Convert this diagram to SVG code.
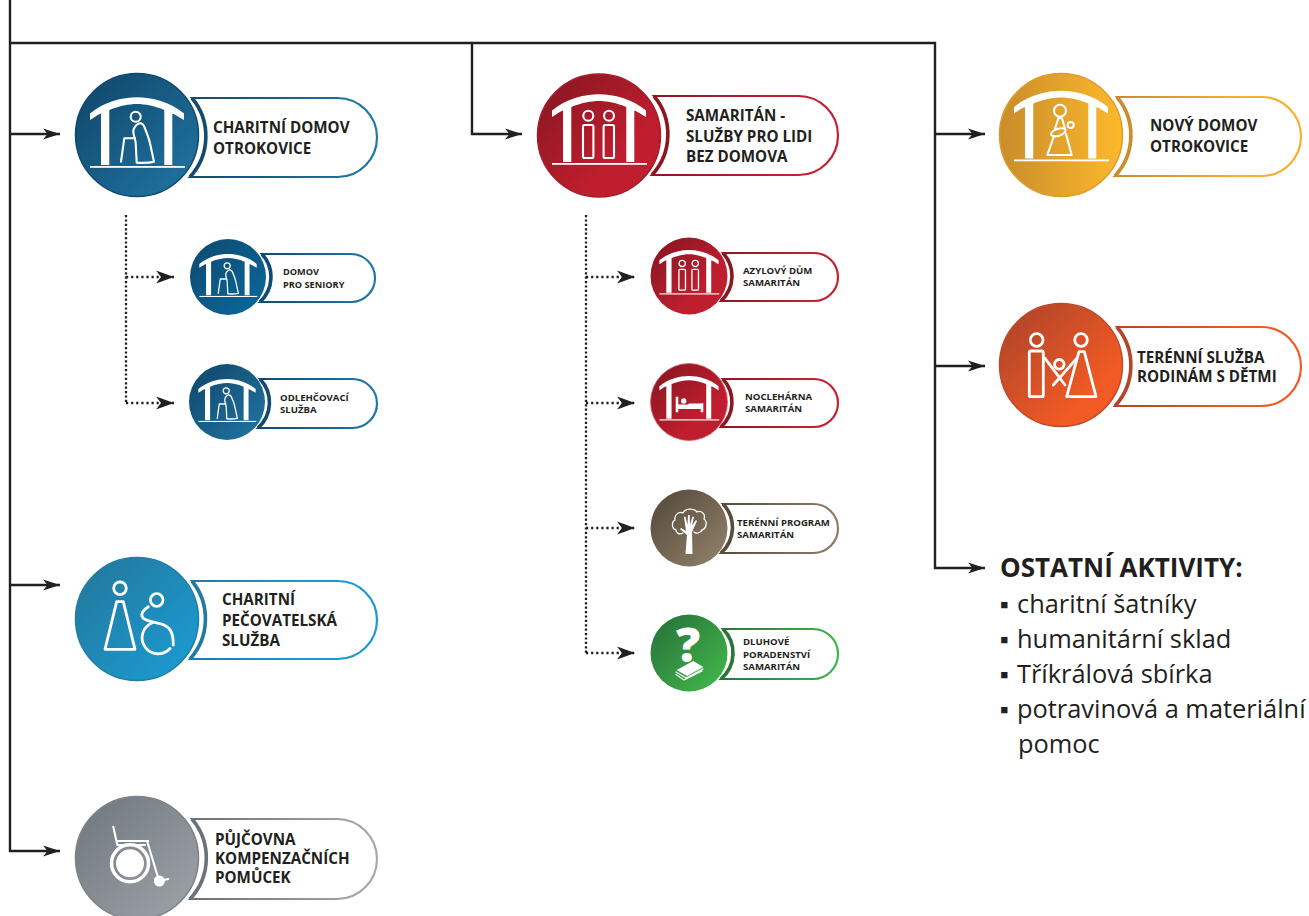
<svg xmlns="http://www.w3.org/2000/svg" xmlns:xlink="http://www.w3.org/1999/xlink" width="1309" height="916" viewBox="0 0 1309 916">
<style>
text{font-family:"Open Sans","Liberation Sans",sans-serif;fill:#231f20}
.b{font-weight:700}
.big{font-size:15.2px;font-weight:700}
.sm{font-size:9.6px;font-weight:700}
.list{font-size:25.4px}
.conn{fill:none;stroke:#231f20;stroke-width:2.4}
.dot{fill:none;stroke:#231f20;stroke-width:2.3;stroke-dasharray:2.2 2.2}
.doth{fill:none;stroke:#231f20;stroke-width:2.3;stroke-dasharray:2.2 2.9}
.pill{fill:#fff;stroke-width:2.2}
.edge{fill:none;stroke-width:3.6}
.w{fill:#fff;stroke:none}
.o{fill:none;stroke:#fff;stroke-width:2.1;stroke-linejoin:round;stroke-linecap:round}
.o2{fill:none;stroke:#fff;stroke-width:2.8;stroke-linecap:round;stroke-linejoin:round}
</style>
<defs>
<marker id="ah" markerUnits="userSpaceOnUse" markerWidth="18" markerHeight="12" refX="17" refY="6" orient="auto"><path d="M0,0.5 L17,6 L0,11.5 L4.5,6 Z" fill="#231f20"/></marker>
<marker id="ahd" markerUnits="userSpaceOnUse" markerWidth="19" markerHeight="14" refX="18" refY="7" orient="auto"><path d="M0,0.5 L18,7 L0,13.5 L5,7 Z" fill="#231f20"/></marker>
<linearGradient id="gBlue" x1="0.1" y1="0.1" x2="0.9" y2="0.9"><stop offset="0" stop-color="#114a6e"/><stop offset="1" stop-color="#1f719f"/></linearGradient>
<linearGradient id="gBlue2" x1="0.1" y1="0.1" x2="0.9" y2="0.9"><stop offset="0" stop-color="#0e4c74"/><stop offset="1" stop-color="#0a6699"/></linearGradient>
<linearGradient id="gCyan" x1="0.1" y1="0.1" x2="0.9" y2="0.9"><stop offset="0" stop-color="#237a9f"/><stop offset="1" stop-color="#1b9ad0"/></linearGradient>
<linearGradient id="gGrey" x1="0.1" y1="0.1" x2="0.9" y2="0.9"><stop offset="0" stop-color="#737a80"/><stop offset="1" stop-color="#9aa0a6"/></linearGradient>
<linearGradient id="gRed" x1="0.1" y1="0.1" x2="0.9" y2="0.9"><stop offset="0" stop-color="#8c1722"/><stop offset="0.7" stop-color="#be1e2e"/></linearGradient>
<linearGradient id="gBrown" x1="0.1" y1="0.1" x2="0.9" y2="0.9"><stop offset="0" stop-color="#584c3d"/><stop offset="1" stop-color="#8d7e67"/></linearGradient>
<linearGradient id="gGreen" x1="0.1" y1="0.1" x2="0.9" y2="0.9"><stop offset="0" stop-color="#29763b"/><stop offset="1" stop-color="#40b44a"/></linearGradient>
<linearGradient id="gYellow" x1="0" y1="0.5" x2="1" y2="0.5"><stop offset="0" stop-color="#c98d2b"/><stop offset="1" stop-color="#fdb92c"/></linearGradient>
<linearGradient id="gOrange" x1="0.1" y1="0.1" x2="0.9" y2="0.9"><stop offset="0" stop-color="#b2452a"/><stop offset="0.8" stop-color="#f15a24"/></linearGradient>
<linearGradient id="sBlue" x1="0" y1="0.5" x2="1" y2="0.5"><stop offset="0" stop-color="#124b6f"/><stop offset="1" stop-color="#1f78a8"/></linearGradient>
<linearGradient id="sCyan" x1="0" y1="0.5" x2="1" y2="0.5"><stop offset="0" stop-color="#227a9f"/><stop offset="0.6" stop-color="#1b9ad0"/></linearGradient>
<linearGradient id="sGrey" x1="0" y1="0.5" x2="1" y2="0.5"><stop offset="0" stop-color="#6b7278"/><stop offset="1" stop-color="#a7abb0"/></linearGradient>
<linearGradient id="sRed" x1="0" y1="0.5" x2="1" y2="0.5"><stop offset="0" stop-color="#8c1722"/><stop offset="0.7" stop-color="#c32032"/></linearGradient>
<linearGradient id="sBrown" x1="0" y1="0.5" x2="1" y2="0.5"><stop offset="0" stop-color="#584c3d"/><stop offset="1" stop-color="#8d7e67"/></linearGradient>
<linearGradient id="sGreen" x1="0" y1="0.5" x2="1" y2="0.5"><stop offset="0" stop-color="#29763b"/><stop offset="1" stop-color="#40b44a"/></linearGradient>
<linearGradient id="sYellow" x1="0" y1="0.5" x2="1" y2="0.5"><stop offset="0" stop-color="#c98d2b"/><stop offset="0.7" stop-color="#f9ae30"/></linearGradient>
<linearGradient id="sOrange" x1="0" y1="0.5" x2="1" y2="0.5"><stop offset="0" stop-color="#b2452a"/><stop offset="0.7" stop-color="#f15a24"/></linearGradient>
<g id="roof">
<path class="w" d="M-47,-21.500 C-33,-33 -15,-37.700 0,-37.700 C15,-37.700 33,-33 47,-21.500 L47,-15 C43,-17.500 39,-20 35.300,-21.500 L35.300,30 H27.300 L27.300,-25 C18,-29 8,-31 0,-31 C-8,-31 -18,-29 -27.700,-25 L-27.700,30 H-36 L-36,-21.500 C-40,-20 -43,-17.500 -47,-15 Z"/>
<rect class="w" x="-47" y="31" width="95" height="1.800"/>
</g>
<g id="elder">
<use xlink:href="#roof" href="#roof"/>
<circle class="o" cx="-1.300" cy="-18.300" r="5"/>
<path class="o" d="M-2,-8.300 C0,-11 2,-11.700 3,-11.700 C5.500,-11.700 7,-9.500 8,-6.700 C10,-1 12,3 13,8.300 C14.500,15 16,22 17,26.700 C12,28 5,28 -.3,27.700 L-1.300,8.300 C-1.500,4 -3.700,0 -3.700,-3.300 C-3.700,-5 -3,-7 -2,-8.300 Z"/>
<path class="o" d="M-16,26.700 L-12.700,3.300 L-2,3.300"/>
</g>
<g id="people">
<use xlink:href="#roof" href="#roof" y="-3.500"/>
<circle class="o" cx="-10.700" cy="-19.800" r="5"/>
<circle class="o" cx="10" cy="-19.800" r="5"/>
<rect class="o" x="-16" y="-10.500" width="10.400" height="33" rx="1.500"/>
<rect class="o" x="4.600" y="-10.500" width="10.400" height="33" rx="1.500"/>
</g>
</defs>

<g id="connectors">
<path class="conn" d="M10,0 V851 H60" marker-end="url(#ah)"/>
<path class="conn" d="M10,134 H60" marker-end="url(#ah)"/>
<path class="conn" d="M10,585 H60" marker-end="url(#ah)"/>
<path class="conn" d="M10,43 H935 V568 H985" marker-end="url(#ah)"/>
<path class="conn" d="M472,43 V134 H522" marker-end="url(#ah)"/>
<path class="conn" d="M935,134 H985" marker-end="url(#ah)"/>
<path class="conn" d="M935,366 H985" marker-end="url(#ah)"/>
<path class="dot" d="M126,215 V403"/>
<path class="doth" d="M126,277 H174" marker-end="url(#ahd)"/>
<path class="doth" d="M126,403 H174" marker-end="url(#ahd)"/>
<path class="dot" d="M586,215 V653"/>
<path class="doth" d="M586,277 H635" marker-end="url(#ahd)"/>
<path class="doth" d="M586,403 H635" marker-end="url(#ahd)"/>
<path class="doth" d="M586,528 H635" marker-end="url(#ahd)"/>
<path class="doth" d="M586,653 H635" marker-end="url(#ahd)"/>
</g>

<g id="node-charitni-domov">
<path class="pill" stroke="url(#sBlue)" d="M192,98 H337.500 A39.500,39.500 0 0 1 337.500,177 H190 A60,60 0 0 0 192,98 Z"/>
<path class="edge" stroke="#124b6f" d="M192,98 A60,60 0 0 1 190,177"/>
<circle cx="137" cy="135" r="61.500" fill="url(#gBlue)" stroke="#0f4a6e" stroke-width="1.500"/>
<use xlink:href="#elder" href="#elder" transform="translate(137,135)"/>
<text class="big" x="213" y="133">CHARITNÍ DOMOV</text>
<text class="big" x="213" y="154">OTROKOVICE</text>
</g>

<g id="node-domov-seniory">
<path class="pill" stroke="url(#sBlue)" d="M262,254 H351 A24,24 0 0 1 351,302 H260 A34,34 0 0 0 262,254 Z"/>
<path class="edge" stroke="#124b6f" stroke-width="2.600" d="M262,254 A34,34 0 0 1 260,302"/>
<circle cx="228" cy="277" r="38" fill="url(#gBlue2)"/>
<use xlink:href="#elder" href="#elder" transform="translate(228,277) scale(.61)"/>
<text class="sm" x="283" y="275" style="font-size:9.2px">DOMOV</text>
<text class="sm" x="283" y="288" style="font-size:9.2px">PRO SENIORY</text>
</g>

<g id="node-odlehcovaci">
<path class="pill" stroke="url(#sBlue)" d="M260,379 H352.500 A24.500,24.500 0 0 1 352.500,428 H258 A34,34 0 0 0 260,379 Z"/>
<path class="edge" stroke="#124b6f" stroke-width="2.600" d="M260,379 A34,34 0 0 1 258,428"/>
<circle cx="227" cy="402" r="38" fill="url(#gBlue)"/>
<use xlink:href="#elder" href="#elder" transform="translate(227,402) scale(.61)"/>
<text class="sm" x="280" y="401">ODLEHČOVACÍ</text>
<text class="sm" x="280" y="413">SLUŽBA</text>
</g>

<g id="node-pecovatelska">
<path class="pill" stroke="url(#sCyan)" d="M192,581 H338 A39,39 0 0 1 338,659 H190 A60,60 0 0 0 192,581 Z"/>
<path class="edge" stroke="#227a9f" d="M192,581 A60,60 0 0 1 190,659"/>
<circle cx="137" cy="619" r="61.500" fill="url(#gCyan)" stroke="#1f7ea3" stroke-width="1.500"/>
<g transform="translate(137,619)">
<circle class="o2" cx="-17" cy="-30.700" r="6.300"/>
<path class="o2" d="M-20.300,-17.300 H-13.700 L-2,30.300 H-32 Z"/>
<circle class="o2" cx="19.700" cy="-19" r="6.300"/>
<path class="o2" d="M11.300,-12.300 C6,-9 3,-5 6,-1 C10,3 20,3 27,6 C33,9 36.300,13 36.300,26"/>
<path class="o2" d="M15,4 A16,16 0 1 0 33,29.500"/>
</g>
<text class="big" x="222" y="605">CHARITNÍ</text>
<text class="big" x="222" y="626">PEČOVATELSKÁ</text>
<text class="big" x="222" y="646">SLUŽBA</text>
</g>

<g id="node-pujcovna">
<path class="pill" stroke="url(#sGrey)" d="M192,819 H337 A40,40 0 0 1 337,899 H190 A60,60 0 0 0 192,819 Z"/>
<path class="edge" stroke="#6b7278" d="M192,819 A60,60 0 0 1 190,899"/>
<circle cx="137" cy="858" r="61.500" fill="url(#gGrey)" stroke="#7b8288" stroke-width="1.500"/>
<g transform="translate(137,858)">
<path class="o" stroke-width="2.400" d="M-23.700,-31.300 L-19.700,-13 M-19.700,-17 H11.300 M-18.700,-13 H8 M10.300,-16.300 L16.300,3.700 L21.300,20.300 M22,23 L31.300,21"/>
<circle cx="-7" cy="5.300" r="18.500" fill="none" stroke="#fff" stroke-width="3.500"/>
<circle class="w" cx="-7" cy="5.300" r="14"/>
<circle class="w" cx="22.300" cy="23" r="5.500"/>
</g>
<text class="big" x="215" y="845">PŮJČOVNA</text>
<text class="big" x="215" y="864">KOMPENZAČNÍCH</text>
<text class="big" x="215" y="883">POMŮCEK</text>
</g>

<g id="node-samaritan">
<path class="pill" stroke="url(#sRed)" d="M654,96 H798.500 A39.500,39.500 0 0 1 798.500,175 H652 A60,60 0 0 0 654,96 Z"/>
<path class="edge" stroke="#8c1722" d="M654,96 A60,60 0 0 1 652,175"/>
<circle cx="599" cy="135.500" r="61.500" fill="url(#gRed)" stroke="#a41c2b" stroke-width="1.500"/>
<use xlink:href="#people" href="#people" transform="translate(599,135.500)"/>
<text class="big" x="686" y="121">SAMARITÁN -</text>
<text class="big" x="686" y="142">SLUŽBY PRO LIDI</text>
<text class="big" x="686" y="162">BEZ DOMOVA</text>
</g>

<g id="node-azylovy">
<path class="pill" stroke="url(#sRed)" d="M723,253 H814 A24,24 0 0 1 814,301 H721 A34,34 0 0 0 723,253 Z"/>
<path class="edge" stroke="#8c1722" stroke-width="2.600" d="M723,253 A34,34 0 0 1 721,301"/>
<circle cx="689" cy="276" r="38.500" fill="url(#gRed)"/>
<use xlink:href="#people" href="#people" transform="translate(689,276) scale(.63)"/>
<text class="sm" x="743" y="274">AZYLOVÝ DŮM</text>
<text class="sm" x="743" y="286">SAMARITÁN</text>
</g>

<g id="node-nocleharna">
<path class="pill" stroke="url(#sRed)" d="M723,379 H814 A24,24 0 0 1 814,427 H721 A34,34 0 0 0 723,379 Z"/>
<path class="edge" stroke="#8c1722" stroke-width="2.600" d="M723,379 A34,34 0 0 1 721,427"/>
<circle cx="689" cy="402" r="38.500" fill="url(#gRed)" stroke="#d8616b" stroke-width=".8"/>
<g transform="translate(689,402)">
<use xlink:href="#roof" href="#roof" transform="scale(.63) translate(0,-3.500)"/>
<circle class="w" cx="-5.300" cy="-1" r="2.700"/>
<path class="w" d="M-13.300,-5.300 H-10.700 V2.500 H-1 L0,1.500 H11.700 V1.300 H14.300 V10.300 H11.700 V7 H-10.700 V10.300 H-13.300 Z"/>
</g>
<text class="sm" x="745" y="400">NOCLEHÁRNA</text>
<text class="sm" x="745" y="412">SAMARITÁN</text>
</g>

<g id="node-tereni-program">
<path class="pill" stroke="url(#sBrown)" d="M723,504 H813.500 A24.500,24.500 0 0 1 813.500,553 H721 A34,34 0 0 0 723,504 Z"/>
<path class="edge" stroke="#584c3d" stroke-width="2.600" d="M723,504 A34,34 0 0 1 721,553"/>
<circle cx="689" cy="528" r="38.500" fill="url(#gBrown)"/>
<g transform="translate(689,528)">
<path class="o" style="stroke-width:1.300" d="M-6,5 C-10,7 -13,5 -13,2 C-17,1 -18,-6 -14,-8 C-15,-13 -10,-17 -6,-15 C-4,-20 5,-20 8,-16 C12,-18 17,-14 15,-9 C19,-6 17,1 13,2 C12,5 7,6 5,4"/>
<path class="w" d="M-3.500,26 L-2,7 L-9,1 L-8,0 L-3,3 L-5,-11 L-3.500,-11.500 L-1.500,-3 L-1,-13 L.7,-13 L1,-3 L3.500,-11.500 L5,-11 L3,-2.500 L7,-8 L8,-7 L3,4 L3.500,26 Z"/>
</g>
<text class="sm" x="737" y="526">TERÉNNÍ PROGRAM</text>
<text class="sm" x="737" y="538">SAMARITÁN</text>
</g>

<g id="node-dluhove">
<path class="pill" stroke="url(#sGreen)" d="M723,629 H813 A25,25 0 0 1 813,679 H721 A34,34 0 0 0 723,629 Z"/>
<path class="edge" stroke="#29763b" stroke-width="2.600" d="M723,629 A34,34 0 0 1 721,679"/>
<circle cx="689" cy="653" r="38.500" fill="url(#gGreen)"/>
<text x="688" y="662" text-anchor="middle" style="font-size:48px;font-weight:800;fill:#fff">?</text>
<g transform="translate(689,653)">
<path class="w" d="M-12.300,17 L4.300,8 L14.300,14 L-2,23 Z"/>
<path class="o" style="stroke-width:1.200" d="M-13,19 L-3,25 L14,16 M-13,21.500 L-5,27 L13,18"/>
</g>
<text class="sm" x="743" y="645">DLUHOVÉ</text>
<text class="sm" x="743" y="658">PORADENSTVÍ</text>
<text class="sm" x="743" y="670">SAMARITÁN</text>
</g>

<g id="node-novy-domov">
<path class="pill" stroke="url(#sYellow)" d="M1117,97 H1261.500 A39.500,39.500 0 0 1 1261.500,176 H1115 A60,60 0 0 0 1117,97 Z"/>
<path class="edge" stroke="#c98d2b" d="M1117,97 A60,60 0 0 1 1115,176"/>
<circle cx="1061" cy="135" r="61.500" fill="url(#gYellow)" stroke="#dc9c2b" stroke-width="1.500"/>
<g transform="translate(1061,135)">
<use xlink:href="#roof" href="#roof" y="-6.500"/>
<circle class="o" cx="-1" cy="-24.300" r="6"/>
<ellipse class="o" cx="-2.700" cy="-2.700" rx="7.500" ry="3.500" transform="rotate(-18 -2.700 -2.700)"/>
<circle class="o" cx="9.700" cy="-10" r="3"/>
<path class="o" d="M-6,-6 L-2.700,-16.700 H1 L4,-6"/>
<path class="o" d="M-7,1 L-13.700,20 H10.700 L5,-1"/>
</g>
<text class="big" x="1150" y="131">NOVÝ DOMOV</text>
<text class="big" x="1150" y="152">OTROKOVICE</text>
</g>

<g id="node-tereni-sluzba">
<path class="pill" stroke="url(#sOrange)" d="M1117,327 H1261.500 A39.500,39.500 0 0 1 1261.500,406 H1115 A60,60 0 0 0 1117,327 Z"/>
<path class="edge" stroke="#b2452a" d="M1117,327 A60,60 0 0 1 1115,406"/>
<circle cx="1061" cy="365" r="61.500" fill="url(#gOrange)" stroke="#bf4a28" stroke-width="1.500"/>
<g transform="translate(1061,365)">
<circle class="o2" cx="-24.300" cy="-25" r="6.300"/>
<circle class="o2" cx="20" cy="-25" r="6.300"/>
<circle class="o2" cx="-1.700" cy="-.7" r="4.800"/>
<rect class="o2" x="-31.700" y="-14" width="14" height="45.700" rx="1.500"/>
<path class="o2" d="M18,-13.300 H23.300 L35,31.700 H5.700 Z"/>
<path class="o2" d="M-16,-6.700 L4,20 M15.700,-6.700 L-7.700,20"/>
</g>
<text class="big" x="1137" y="363">TERÉNNÍ SLUŽBA</text>
<text class="big" x="1137" y="382">RODINÁM S DĚTMI</text>
</g>

<g id="ostatni-aktivity">
<text class="b" x="1000" y="577" font-size="26">OSTATNÍ AKTIVITY:</text>
<text class="list" y="613"><tspan x="1000">▪</tspan><tspan x="1017">charitní šatníky</tspan></text>
<text class="list" y="648"><tspan x="1000">▪</tspan><tspan x="1017">humanitární sklad</tspan></text>
<text class="list" y="683"><tspan x="1000">▪</tspan><tspan x="1017">Tříkrálová sbírka</tspan></text>
<text class="list" y="718"><tspan x="1000">▪</tspan><tspan x="1017">potravinová a materiální</tspan></text>
<text class="list" x="1018" y="753">pomoc</text>
</g>
</svg>
